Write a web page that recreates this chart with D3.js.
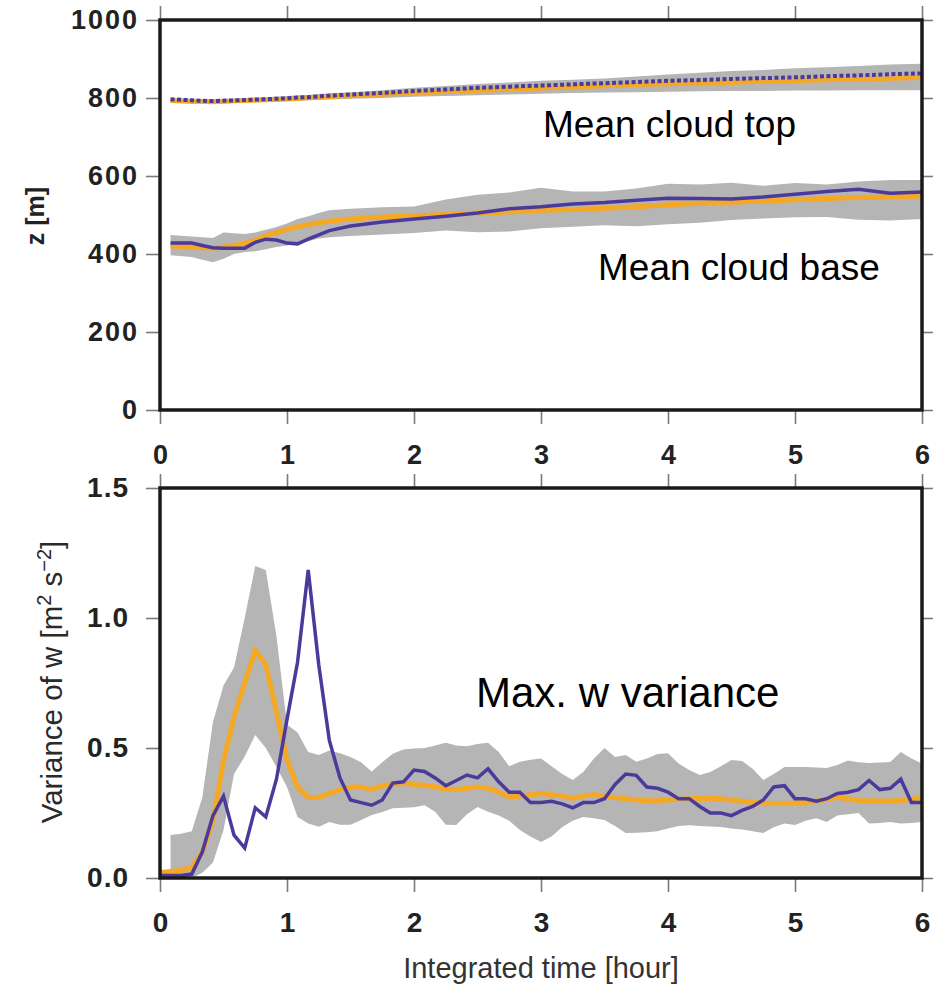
<!DOCTYPE html>
<html><head><meta charset="utf-8">
<script src="https://cdn.jsdelivr.net/npm/d3@7"></script>
<style>body{margin:0;background:#fff;} svg{display:block;}</style>
</head><body><svg id="chart" width="933" height="984"></svg>
<script>
// ---------- DATA ----------
// Top panel (cloud top / cloud base, m)
const topTime = [0.083,0.25,0.333,0.417,0.5,0.583,0.667,0.75,0.833,0.917,1.0,1.083,1.167,1.25,1.333,1.5,1.75,2.0,2.25,2.5,2.75,3.0,3.25,3.5,3.75,4.0,4.25,4.5,4.75,5.0,5.25,5.5,5.75,6.0];
const topModel = [797,794,793,792,793,794,795,796,797,798,799,801,802,804,806,809,813,818,822,826,829,832,835,838,841,844,846,849,851,853,856,858,861,863];
const topMean  = [793,791,791,790,791,792,793,794,795,796,797,798,800,801,803,805,809,813,816,819,822,825,828,831,834,836,838,840,842,844,846,848,850,852];
const topLow   = [788,786,786,785,786,787,788,789,790,791,792,793,794,795,796,798,800,803,805,807,809,811,813,814,815,816,817,818,818,819,819,820,820,820];
const topHigh  = [800,798,797,797,798,799,800,801,802,804,805,807,808,810,812,815,820,826,831,836,840,844,847,850,855,860,865,869,872,876,879,882,886,888];
const baseModel = [428,428,422,416,415,415,415,430,438,436,428,426,438,449,460,472,482,490,497,505,516,521,528,532,538,543,542,541,546,553,560,566,556,559];
const baseMean  = [421,418,416,415,418,422,428,435,447,455,463,470,475,480,484,490,495,498,501,505,508,512,514,517,521,526,530,533,536,539,542,545,547,549];
const baseLow   = [397,392,385,379,388,400,405,407,412,418,422,428,433,440,443,446,450,454,460,456,458,466,470,474,471,476,480,487,491,494,495,488,486,490];
const baseHigh  = [449,445,443,441,455,453,451,455,462,469,478,490,497,505,512,516,520,522,540,552,558,570,560,560,568,580,578,583,575,582,578,586,590,590];
const topYTicks = [0,200,400,600,800,1000];

// Bottom panel (variance of w, m2 s-2), 5-minute steps
const varTime = [0,0.083,0.167,0.25,0.333,0.417,0.5,0.583,0.667,0.75,0.833,0.917,1.0,1.083,1.167,1.25,1.333,1.417,1.5,1.583,1.667,1.75,1.833,1.917,2.0,2.083,2.167,2.25,2.333,2.417,2.5,2.583,2.667,2.75,2.833,2.917,3.0,3.083,3.167,3.25,3.333,3.417,3.5,3.583,3.667,3.75,3.833,3.917,4.0,4.083,4.167,4.25,4.333,4.417,4.5,4.583,4.667,4.75,4.833,4.917,5.0,5.083,5.167,5.25,5.333,5.417,5.5,5.583,5.667,5.75,5.833,5.917,6.0];
const varModel = [0.01,0.01,0.01,0.015,0.10,0.24,0.315,0.165,0.115,0.27,0.235,0.38,0.61,0.83,1.185,0.82,0.53,0.385,0.30,0.29,0.28,0.30,0.365,0.37,0.415,0.41,0.385,0.355,0.375,0.396,0.385,0.42,0.37,0.33,0.33,0.29,0.29,0.295,0.285,0.27,0.29,0.29,0.305,0.36,0.40,0.395,0.35,0.345,0.33,0.305,0.305,0.275,0.25,0.25,0.24,0.26,0.275,0.30,0.35,0.355,0.305,0.305,0.295,0.305,0.325,0.33,0.34,0.375,0.34,0.345,0.38,0.29,0.29];
const varMean  = [0.02,0.025,0.03,0.04,0.10,0.22,0.45,0.62,0.75,0.875,0.82,0.64,0.455,0.35,0.31,0.31,0.325,0.34,0.35,0.35,0.34,0.355,0.36,0.365,0.36,0.357,0.35,0.342,0.34,0.345,0.35,0.345,0.33,0.312,0.315,0.32,0.325,0.32,0.315,0.307,0.315,0.32,0.315,0.31,0.305,0.30,0.298,0.297,0.30,0.303,0.305,0.306,0.307,0.305,0.30,0.295,0.29,0.288,0.287,0.287,0.288,0.29,0.295,0.302,0.31,0.305,0.298,0.297,0.296,0.296,0.298,0.303,0.31];
const varLow   = [null,0.0,0.0,0.0,0.02,0.06,0.185,0.40,0.467,0.55,0.50,0.427,0.35,0.235,0.21,0.197,0.215,0.205,0.205,0.223,0.242,0.254,0.268,0.27,0.272,0.28,0.255,0.205,0.204,0.245,0.273,0.255,0.24,0.22,0.185,0.16,0.138,0.16,0.196,0.22,0.235,0.23,0.223,0.20,0.173,0.174,0.176,0.18,0.19,0.20,0.203,0.20,0.198,0.196,0.19,0.187,0.18,0.173,0.195,0.21,0.204,0.22,0.23,0.215,0.24,0.245,0.25,0.21,0.212,0.215,0.21,0.212,0.215];
const varHigh  = [null,0.165,0.17,0.18,0.31,0.60,0.74,0.81,1.0,1.20,1.185,0.93,0.59,0.56,0.485,0.473,0.49,0.48,0.465,0.445,0.41,0.445,0.478,0.494,0.498,0.50,0.51,0.52,0.51,0.507,0.515,0.52,0.485,0.43,0.447,0.455,0.46,0.43,0.40,0.377,0.408,0.46,0.50,0.465,0.473,0.447,0.46,0.477,0.48,0.44,0.415,0.396,0.408,0.43,0.454,0.45,0.42,0.377,0.40,0.427,0.427,0.427,0.425,0.423,0.435,0.452,0.445,0.442,0.444,0.446,0.485,0.46,0.44];
const botYTicks = [0,0.5,1.0,1.5];
const xTicks = [0,1,2,3,4,5,6];

// ---------- STYLE ----------
const ORANGE = "#F4A823", PURPLE = "#4B3A9B", GREY = "#B5B5B5";
const FONT = "'Liberation Sans', Arial, Helvetica, sans-serif";

const svg = d3.select("#chart");
const x = d3.scaleLinear().domain([0,6]).range([160,922]);
const yTop = d3.scaleLinear().domain([0,1000]).range([410,20]);
const yBot = d3.scaleLinear().domain([0,1.5]).range([878,488]);

function zip(t, a){ return t.map((d,i)=>({t:d, v:a[i]})); }
function zipBand(t, lo, hi){ return t.map((d,i)=>({t:d, lo:lo[i], hi:hi[i]})); }

function drawBand(g, t, lo, hi, y){
  const area = d3.area().defined(d=>d.lo!=null && d.hi!=null)
    .x(d=>x(d.t)).y0(d=>y(d.lo)).y1(d=>y(d.hi));
  g.append("path").datum(zipBand(t,lo,hi)).attr("d",area).attr("fill",GREY);
}
function drawLine(g, t, v, y, color, w, dash){
  const line = d3.line().defined(d=>d.v!=null).x(d=>x(d.t)).y(d=>y(d.v));
  const p = g.append("path").datum(zip(t,v)).attr("d",line)
    .attr("fill","none").attr("stroke",color).attr("stroke-width",w)
    .attr("stroke-linejoin","miter").attr("stroke-miterlimit",4);
  if(dash) p.attr("stroke-dasharray",dash);
}

function styleAxis(g){
  g.select(".domain").remove();
  g.selectAll(".tick line").attr("stroke","#7a7a7a").attr("stroke-width",1.6);
  g.selectAll(".tick text").attr("font-family",FONT).attr("fill","#222");
}

function drawAxes(y, yTicks, yFmt, y0, y1, labelSize, spacing, xLabY, yLabRight){
  const gl = svg.append("g").attr("transform","translate(160,0)")
    .call(d3.axisLeft(y).tickValues(yTicks).tickSize(14).tickPadding(160-14-yLabRight).tickFormat(yFmt));
  styleAxis(gl);
  gl.selectAll(".tick text").attr("font-size",labelSize).attr("font-weight","bold")
    .attr("letter-spacing",spacing);
  const gr = svg.append("g").attr("transform","translate(922,0)")
    .call(d3.axisRight(y).tickValues(yTicks).tickSize(12).tickFormat(""));
  styleAxis(gr);
  const gt = svg.append("g").attr("transform",`translate(0,${y0})`)
    .call(d3.axisTop(x).tickValues(xTicks).tickSize(14).tickFormat(""));
  styleAxis(gt);
  const gb = svg.append("g").attr("transform",`translate(0,${y1})`)
    .call(d3.axisBottom(x).tickValues(xTicks).tickSize(14).tickPadding(0).tickFormat(d3.format("d")));
  styleAxis(gb);
  gb.selectAll(".tick text").attr("font-size",labelSize).attr("font-weight","bold")
    .attr("dy",null).attr("y", xLabY - y1);
  // frame
  svg.append("rect").attr("x",160).attr("y",y0).attr("width",762).attr("height",y1-y0)
    .attr("fill","none").attr("stroke","#1a1a1a").attr("stroke-width",3.5);
}

// ---------- TOP PANEL ----------
const gTop = svg.append("g");
drawBand(gTop, topTime, topLow, topHigh, yTop);
drawBand(gTop, topTime, baseLow, baseHigh, yTop);
drawLine(gTop, topTime, topMean, yTop, ORANGE, 4.5);
drawLine(gTop, topTime, topModel, yTop, PURPLE, 4, "4,2.5");
drawLine(gTop, topTime, baseMean, yTop, ORANGE, 5);
drawLine(gTop, topTime, baseModel, yTop, PURPLE, 3.5);
drawAxes(yTop, topYTicks, d3.format("d"), 20, 410, 27, 2, 464, 139);

gTop.append("text").attr("x",543).attr("y",137).attr("font-family",FONT).attr("font-size",37)
  .attr("fill","#000").text("Mean cloud top");
gTop.append("text").attr("x",598).attr("y",280).attr("font-family",FONT).attr("font-size",37)
  .attr("fill","#000").text("Mean cloud base");
svg.append("text").attr("transform","translate(44,216) rotate(-90)").attr("text-anchor","middle")
  .attr("font-family",FONT).attr("font-size",25).attr("font-weight","bold").attr("fill","#222").text("z [m]");

// ---------- BOTTOM PANEL ----------
const gBot = svg.append("g");
drawBand(gBot, varTime, varLow, varHigh, yBot);
drawLine(gBot, varTime, varMean, yBot, ORANGE, 5);
drawLine(gBot, varTime, varModel, yBot, PURPLE, 3.5);
drawAxes(yBot, botYTicks, d3.format(".1f"), 488, 878, 28, 1, 932, 129);

gBot.append("text").attr("x",476).attr("y",707).attr("font-family",FONT).attr("font-size",42)
  .attr("fill","#000").text("Max. w variance");

const yl = svg.append("text").attr("transform","translate(62,682) rotate(-90)").attr("text-anchor","middle")
  .attr("font-family",FONT).attr("font-size",29.5).attr("fill","#2a2a2a");
yl.append("tspan").text("Variance of w [m");
yl.append("tspan").attr("baseline-shift","super").attr("font-size",20).text("2");
yl.append("tspan").text(" s");
yl.append("tspan").attr("baseline-shift","super").attr("font-size",20).text("\u22122");
yl.append("tspan").text("]");

svg.append("text").attr("x",541).attr("y",978).attr("text-anchor","middle")
  .attr("font-family",FONT).attr("font-size",29).attr("fill","#333").text("Integrated time [hour]");
</script>
</body></html>
